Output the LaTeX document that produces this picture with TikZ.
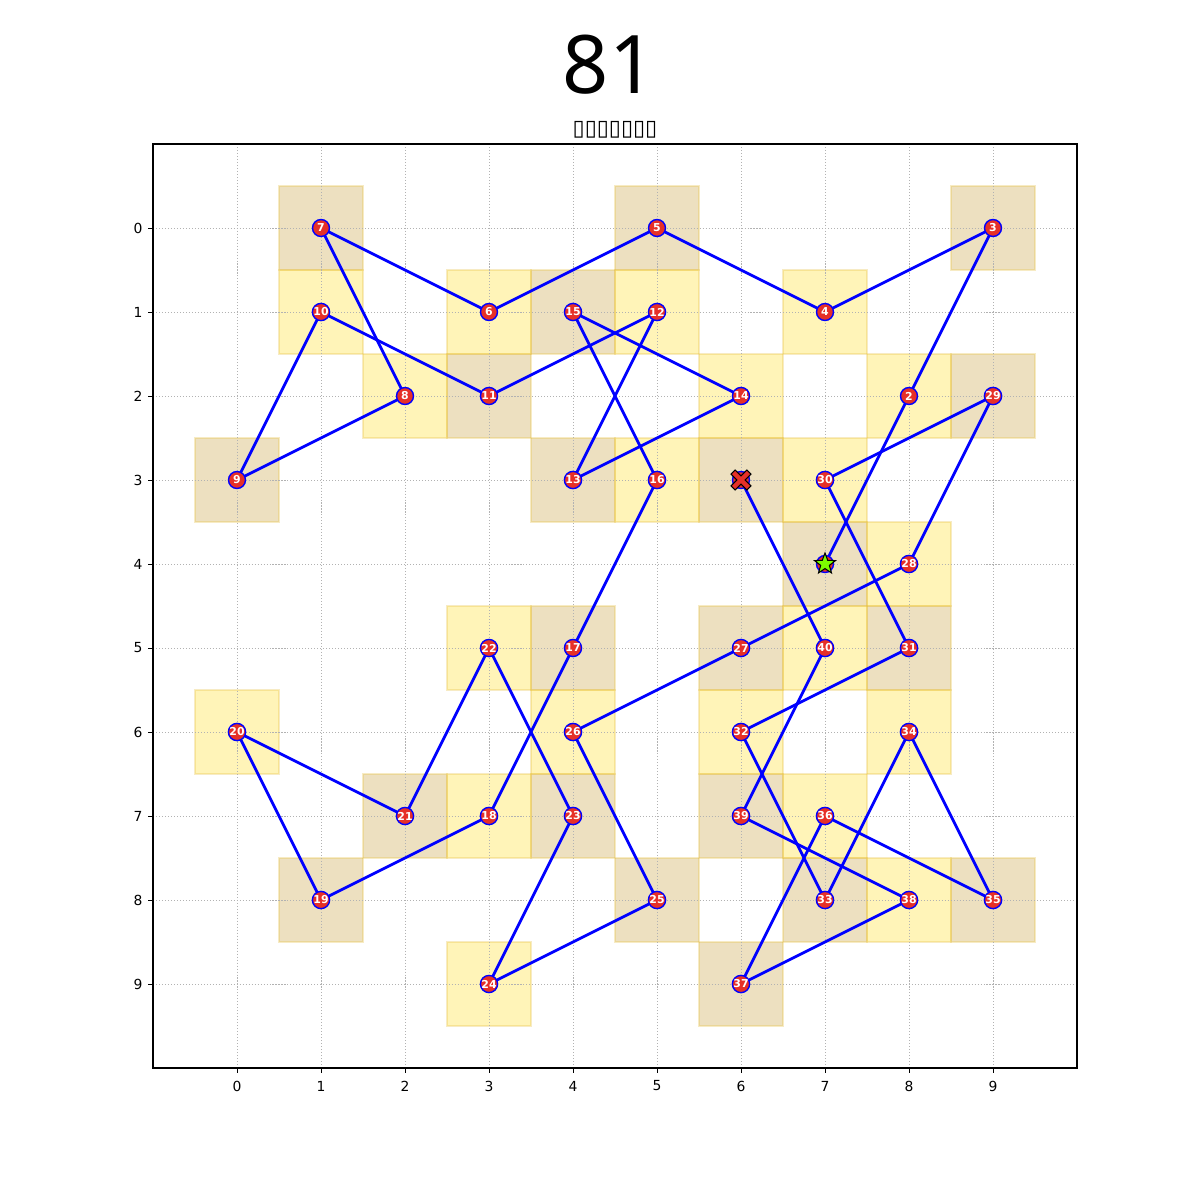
\documentclass[tikz,border=0pt]{standalone}
\usepackage{fontspec}
\setmainfont{DejaVu Sans}
\newfontfamily\titlef{Noto Sans}
\usetikzlibrary{shapes.geometric,backgrounds}
\definecolor{tanc}{RGB}{184,134,11}
\definecolor{yelc}{RGB}{255,215,0}
\definecolor{edgec}{RGB}{230,190,60}
\definecolor{nodered}{RGB}{230,48,40}
\definecolor{starg}{RGB}{124,252,0}
\tikzset{
  sqtan/.style={fill=tanc, fill opacity=0.26, draw=edgec, draw opacity=0.3, line width=0.7pt},
  sqyel/.style={fill=yelc, fill opacity=0.28, draw=edgec, draw opacity=0.3, line width=0.7pt},
  gridline/.style={gray!60, line width=0.4pt, dash pattern=on 0.6pt off 1.1pt},
  tourpath/.style={blue, line width=1.6pt},
  knode/.style={circle, fill=nodered, draw=blue, line width=0.8pt, minimum size=0.34cm, inner sep=0pt,
    text=white, font=\bfseries\fontsize{6.2}{6.2}\selectfont},
  ticklab/.style={font=\fontsize{7.9}{9}\selectfont, inner sep=0pt},
}
\begin{document}
\begin{tikzpicture}[x=1.68cm,y=-1.68cm]
\useasboundingbox (-2.82143,-2.71429) rectangle (11.46429,11.57143);
% titles
\node[font=\titlef\fontsize{46}{46}\selectfont, inner sep=0pt] (title) at (4.43,-1.94) {81};
\node[font=\fontsize{12.5}{13}\selectfont, inner sep=0pt] (subtitle) at (4.5,-1.167) {▯▯▯▯▯▯▯};
% nodes
\foreach \n/\x/\y in {2/8/2,3/9/0,4/7/1,5/5/0,6/3/1,7/1/0,8/2/2,9/0/3,10/1/1,11/3/2,12/5/1,13/4/3,14/6/2,15/4/1,16/5/3,17/4/5,18/3/7,19/1/8,20/0/6,21/2/7,22/3/5,23/4/7,24/3/9,25/5/8,26/4/6,27/6/5,28/8/4,29/9/2,30/7/3,31/8/5,32/6/6,33/7/8,34/8/6,35/9/8,36/7/7,37/6/9,38/8/8,39/6/7,40/7/5}
  \node[knode] (p\n) at (\x,\y) {\n};
\node[knode] (p1) at (7,4) {};
\node[knode] (p41) at (6,3) {};
% start star
\node[star, star points=5, star point ratio=2.4, fill=starg, draw=black, line width=0.6pt, minimum size=0.44cm, inner sep=0pt] (startmark) at (p1) {};
% end X
\fill[nodered, draw=black, line width=0.6pt, shift={(6,3)}]
  (0,-0.048) -- (0.071,-0.119) -- (0.119,-0.071) -- (0.048,0) -- (0.119,0.071) -- (0.071,0.119)
  -- (0,0.048) -- (-0.071,0.119) -- (-0.119,0.071) -- (-0.048,0) -- (-0.119,-0.071) -- (-0.071,-0.119) -- cycle;
\begin{pgfonlayer}{background}
  \foreach \x/\y in {1/0,5/0,9/0,4/1,3/2,9/2,0/3,4/3,6/3,7/4,4/5,6/5,8/5,2/7,4/7,6/7,1/8,5/8,7/8,9/8,6/9}
    \path[sqtan] (\x-0.5,\y-0.5) rectangle (\x+0.5,\y+0.5);
  \foreach \x/\y in {1/1,3/1,5/1,7/1,2/2,6/2,8/2,5/3,7/3,8/4,3/5,7/5,0/6,4/6,6/6,8/6,3/7,7/7,8/8,3/9}
    \path[sqyel] (\x-0.5,\y-0.5) rectangle (\x+0.5,\y+0.5);
  \foreach \k in {0,...,9} {
    \draw[gridline] (\k,-1) -- (\k,10);
    \draw[gridline] (-1,\k) -- (10,\k);
    \draw[line width=0.5pt] (\k,10) -- (\k,10.058);
    \draw[line width=0.5pt] (-1,\k) -- (-1.058,\k);
    \node[ticklab] (bx\k) at (\k,10.214) {\k};
    \node[ticklab] (ly\k) at (-1.178,\k) {\k};
  }
  \draw[line width=0.6pt] (-1,-1) rectangle (10,10);
  \foreach \i [evaluate=\i as \j using int(\i+1)] in {1,...,40}
    \draw[tourpath] (p\i.center) -- (p\j.center);
\end{pgfonlayer}
\end{tikzpicture}
\end{document}
